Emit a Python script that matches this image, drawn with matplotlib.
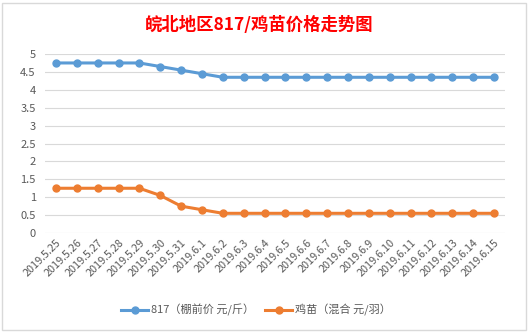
import matplotlib.pyplot as plt
from matplotlib.patches import Rectangle

plt.rcParams['font.family'] = ['Noto Sans CJK SC', 'DejaVu Sans']

dates = ['2019.5.25', '2019.5.26', '2019.5.27', '2019.5.28', '2019.5.29', '2019.5.30',
         '2019.5.31', '2019.6.1', '2019.6.2', '2019.6.3', '2019.6.4', '2019.6.5',
         '2019.6.6', '2019.6.7', '2019.6.8', '2019.6.9', '2019.6.10', '2019.6.11',
         '2019.6.12', '2019.6.13', '2019.6.14', '2019.6.15']
price_817 = [4.75, 4.75, 4.75, 4.75, 4.75, 4.65, 4.55, 4.45, 4.35, 4.35, 4.35,
             4.35, 4.35, 4.35, 4.35, 4.35, 4.35, 4.35, 4.35, 4.35, 4.35, 4.35]
price_chick = [1.25, 1.25, 1.25, 1.25, 1.25, 1.05, 0.75, 0.65, 0.55, 0.55, 0.55,
               0.55, 0.55, 0.55, 0.55, 0.55, 0.55, 0.55, 0.55, 0.55, 0.55, 0.55]
yticks = [0, 0.5, 1, 1.5, 2, 2.5, 3, 3.5, 4, 4.5, 5]

gray = '#595959'
grid = '#D9D9D9'

fig = plt.figure(figsize=(5.29, 3.33), dpi=100)
fig.patches.append(Rectangle((2 / 529, 3 / 333), 524 / 529, 327 / 333,
                             transform=fig.transFigure, fill=False,
                             edgecolor=grid, linewidth=1))

ax = fig.add_axes([0.086, 0.3003, 0.8677, 0.5375])
x = range(len(dates))
ax.plot(x, price_817, color='#5B9BD5', linewidth=2.2, marker='o', markersize=5,
        label='817（棚前价 元/斤）')
ax.plot(x, price_chick, color='#ED7D31', linewidth=2.2, marker='o', markersize=5,
        label='鸡苗（混合 元/羽）')

ax.set_xlim(-0.5, len(dates) - 0.5)
ax.set_ylim(0, 5)
ax.set_yticks(yticks)
ax.set_yticklabels([f'{v:g}' for v in yticks], fontsize=8, color=gray)
ax.set_xticks(list(x))
ax.set_xticklabels(dates, rotation=45, ha='right', rotation_mode='anchor',
                   fontsize=7.8, color=gray)
ax.tick_params(length=0, pad=7)
ax.tick_params(axis='x', pad=3)
for s in ax.spines.values():
    s.set_visible(False)
ax.grid(axis='y', color=grid, linewidth=0.8)
ax.set_axisbelow(True)

fig.text(0.49, 1 - 25 / 333, '皖北地区817/鸡苗价格走势图', color='red',
         fontsize=12.5, fontweight='bold', ha='center', va='center')

leg = fig.legend(loc='center', bbox_to_anchor=(256 / 529, 1 - 310 / 333), ncol=2,
                 frameon=False, fontsize=8, handlelength=2.4, columnspacing=1.0,
                 handletextpad=0.25)
for t in leg.get_texts():
    t.set_color(gray)

fig.savefig('out.png', dpi=100)
